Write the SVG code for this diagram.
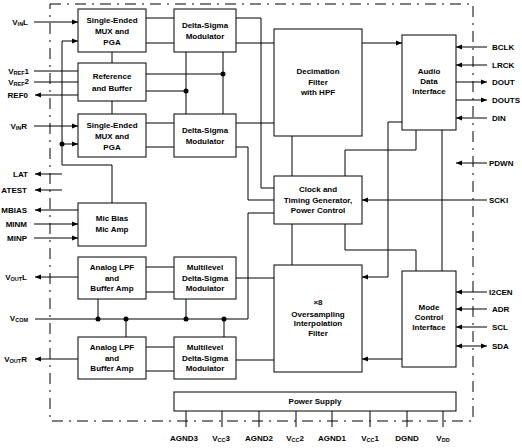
<svg xmlns="http://www.w3.org/2000/svg" width="522" height="448" viewBox="0 0 522 448">
<style>
.b{fill:#fff;stroke:#000;stroke-width:1}
.t{font-family:"Liberation Sans",Arial,sans-serif;font-weight:bold;font-size:8px;fill:#000;text-anchor:middle}
.l{font-family:"Liberation Sans",Arial,sans-serif;font-weight:bold;font-size:8px;fill:#000}
.s{font-size:5.5px}
.w{fill:none;stroke:#000;stroke-width:1}
.bd{fill:none;stroke:#000;stroke-width:1;stroke-dasharray:11 6 2 6}
.d{fill:#000}
</style>
<defs>
<marker id="a" markerWidth="6" markerHeight="6" refX="6" refY="3" orient="auto-start-reverse" markerUnits="userSpaceOnUse">
<path d="M0,0.5 L6,3 L0,5.5 z" fill="#000"/>
</marker>
</defs>
<rect class="bd" x="50" y="4" width="423" height="417"/>
<g id="connectors">
<g class="w">
<path d="M146,18H174M146,43H174M146,123H174M146,147H174"/>
<path d="M146,74H223M146,91H186M186,52V114M223,52V114M112,52V63M112,101V114"/>
<path d="M236,43H274M236,123H274"/>
<path d="M236,18H261V188H274M236,147H248V200H274M274,213H248V319M35,319H248"/>
<path d="M98,299V319M126,319V337M186,299V319M224,319V337"/>
<path d="M146,267H174M146,292H174M146,347H174M146,371H174"/>
<path d="M236,278H274M236,360H274"/>
<path d="M292,136V176M292,224V265"/>
<path d="M416,130V150H345V176M345,224V250H416V271M442,130V271"/>
<path d="M186,411V427M222,411V427M259,411V427M296,411V427M332,411V427M370,411V427M407,411V427M443,411V427"/>
<path d="M34,71H78M34,82H78"/>
<path d="M112,203V165H62V41H78" marker-end="url(#a)"/>
<path d="M62,144H78" marker-end="url(#a)"/>
<path d="M362,43H402" marker-end="url(#a)"/>
<path d="M402,122H388V277H362" marker-end="url(#a)"/>
<path d="M402,359H362" marker-end="url(#a)"/>
<path d="M487,200H362" marker-end="url(#a)"/>
<path d="M34,22H78" marker-end="url(#a)"/>
<path d="M34,126H78" marker-end="url(#a)"/>
<path d="M34,224H78" marker-end="url(#a)"/>
<path d="M34,238H78" marker-end="url(#a)"/>
<path d="M78,95H35" marker-end="url(#a)"/>
<path d="M62,174H35" marker-end="url(#a)"/>
<path d="M62,190H35" marker-end="url(#a)"/>
<path d="M78,210H35" marker-end="url(#a)"/>
<path d="M78,277H35" marker-end="url(#a)"/>
<path d="M78,359H35" marker-end="url(#a)"/>
<path d="M487,47H456" marker-end="url(#a)"/>
<path d="M487,65H456" marker-end="url(#a)"/>
<path d="M456,82H487" marker-end="url(#a)"/>
<path d="M456,100H487" marker-end="url(#a)"/>
<path d="M487,118H456" marker-end="url(#a)"/>
<path d="M487,163H456" marker-end="url(#a)"/>
<path d="M487,292H456" marker-end="url(#a)"/>
<path d="M487,309H456" marker-end="url(#a)"/>
<path d="M487,327H456" marker-end="url(#a)"/>
<path d="M456,346H487" marker-start="url(#a)" marker-end="url(#a)"/>
</g>
<circle class="d" cx="223" cy="74" r="2.5"/>
<circle class="d" cx="186" cy="91" r="2.5"/>
<circle class="d" cx="62" cy="144" r="2.5"/>
<circle class="d" cx="98" cy="319" r="2.5"/>
<circle class="d" cx="126" cy="319" r="2.5"/>
<circle class="d" cx="186" cy="319" r="2.5"/>
<circle class="d" cx="224" cy="319" r="2.5"/>
</g>
<g id="muxL"><rect class="b" x="78" y="9" width="68" height="43"/><text class="t" x="112" y="22.5">Single-Ended</text><text class="t" x="112" y="33.5">MUX and</text><text class="t" x="112" y="44.5">PGA</text></g>
<g id="ref"><rect class="b" x="78" y="63" width="68" height="38"/><text class="t" x="112" y="79">Reference</text><text class="t" x="112" y="91">and Buffer</text></g>
<g id="muxR"><rect class="b" x="78" y="114" width="68" height="43"/><text class="t" x="112" y="127.5">Single-Ended</text><text class="t" x="112" y="138.5">MUX and</text><text class="t" x="112" y="149.5">PGA</text></g>
<g id="dsL"><rect class="b" x="174" y="9" width="62" height="43"/><text class="t" x="205" y="28">Delta-Sigma</text><text class="t" x="205" y="39">Modulator</text></g>
<g id="dsR"><rect class="b" x="174" y="114" width="62" height="43"/><text class="t" x="205" y="133">Delta-Sigma</text><text class="t" x="205" y="144">Modulator</text></g>
<g id="dec"><rect class="b" x="274" y="29" width="88" height="107"/><text class="t" x="318" y="74">Decimation</text><text class="t" x="318" y="85">Filter</text><text class="t" x="318" y="95">with HPF</text></g>
<g id="adi"><rect class="b" x="402" y="35" width="54" height="95"/><text class="t" x="429" y="74">Audio</text><text class="t" x="429" y="84">Data</text><text class="t" x="429" y="94">Interface</text></g>
<g id="clk"><rect class="b" x="274" y="176" width="88" height="48"/><text class="t" x="318" y="192">Clock and</text><text class="t" x="318" y="203">Timing Generator,</text><text class="t" x="318" y="213">Power Control</text></g>
<g id="mic"><rect class="b" x="78" y="203" width="68" height="43"/><text class="t" x="112" y="221">Mic Bias</text><text class="t" x="112" y="232">Mic Amp</text></g>
<g id="lpfL"><rect class="b" x="78" y="257" width="68" height="42"/><text class="t" x="112" y="270">Analog LPF</text><text class="t" x="112" y="281">and</text><text class="t" x="112" y="291">Buffer Amp</text></g>
<g id="lpfR"><rect class="b" x="78" y="337" width="68" height="42"/><text class="t" x="112" y="350">Analog LPF</text><text class="t" x="112" y="361">and</text><text class="t" x="112" y="371">Buffer Amp</text></g>
<g id="mlL"><rect class="b" x="174" y="257" width="62" height="42"/><text class="t" x="205" y="270">Multilevel</text><text class="t" x="205" y="281">Delta-Sigma</text><text class="t" x="205" y="291">Modulator</text></g>
<g id="mlR"><rect class="b" x="174" y="337" width="62" height="42"/><text class="t" x="205" y="350">Multilevel</text><text class="t" x="205" y="361">Delta-Sigma</text><text class="t" x="205" y="371">Modulator</text></g>
<g id="x8"><rect class="b" x="274" y="265" width="88" height="107"/><text class="t" x="318" y="305">×8</text><text class="t" x="318" y="317">Oversampling</text><text class="t" x="318" y="326">Interpolation</text><text class="t" x="318" y="336">Filter</text></g>
<g id="mode"><rect class="b" x="402" y="271" width="54" height="96"/><text class="t" x="429" y="310">Mode</text><text class="t" x="429" y="320">Control</text><text class="t" x="429" y="330">Interface</text></g>
<g id="power"><rect class="b" x="174" y="392" width="282" height="19"/><text class="t" x="315" y="404">Power Supply</text></g>
<g id="pins-left" class="l" text-anchor="end">
<text x="28" y="25">V<tspan class="s" dy="1">IN</tspan><tspan dy="-1">L</tspan></text>
<text x="29" y="74">V<tspan class="s" dy="1">REF</tspan><tspan dy="-1">1</tspan></text>
<text x="29" y="85">V<tspan class="s" dy="1">REF</tspan><tspan dy="-2">2</tspan></text>
<text x="28" y="98">REF0</text>
<text x="27" y="129">V<tspan class="s" dy="1">IN</tspan><tspan dy="-1">R</tspan></text>
<text x="28" y="177">LAT</text>
<text x="27" y="193">ATEST</text>
<text x="27" y="213">MBIAS</text>
<text x="27" y="227">MINM</text>
<text x="27" y="241">MINP</text>
<text x="27" y="280">V<tspan class="s" dy="1">OUT</tspan><tspan dy="-1">L</tspan></text>
<text x="28" y="321">V<tspan class="s" dy="1">COM</tspan></text>
<text x="27" y="362">V<tspan class="s" dy="1">OUT</tspan><tspan dy="-1">R</tspan></text>
</g>
<g id="pins-right" class="l">
<text x="492" y="50">BCLK</text>
<text x="492" y="68">LRCK</text>
<text x="492" y="85">DOUT</text>
<text x="492" y="103">DOUTS</text>
<text x="492" y="121">DIN</text>
<text x="489" y="166">PDWN</text>
<text x="489" y="203">SCKI</text>
<text x="489" y="295">I2CEN</text>
<text x="492" y="312">ADR</text>
<text x="492" y="330">SCL</text>
<text x="492" y="349">SDA</text>
</g>
<g id="pins-power" class="t">
<text x="184" y="441">AGND3</text>
<text x="221" y="441">V<tspan class="s" dy="1">CC</tspan><tspan dy="-1">3</tspan></text>
<text x="259" y="441">AGND2</text>
<text x="295" y="441">V<tspan class="s" dy="1">CC</tspan><tspan dy="-1">2</tspan></text>
<text x="332" y="441">AGND1</text>
<text x="370" y="441">V<tspan class="s" dy="1">CC</tspan><tspan dy="-1">1</tspan></text>
<text x="407" y="441">DGND</text>
<text x="443" y="441">V<tspan class="s" dy="1">DD</tspan></text>
</g>
</svg>
